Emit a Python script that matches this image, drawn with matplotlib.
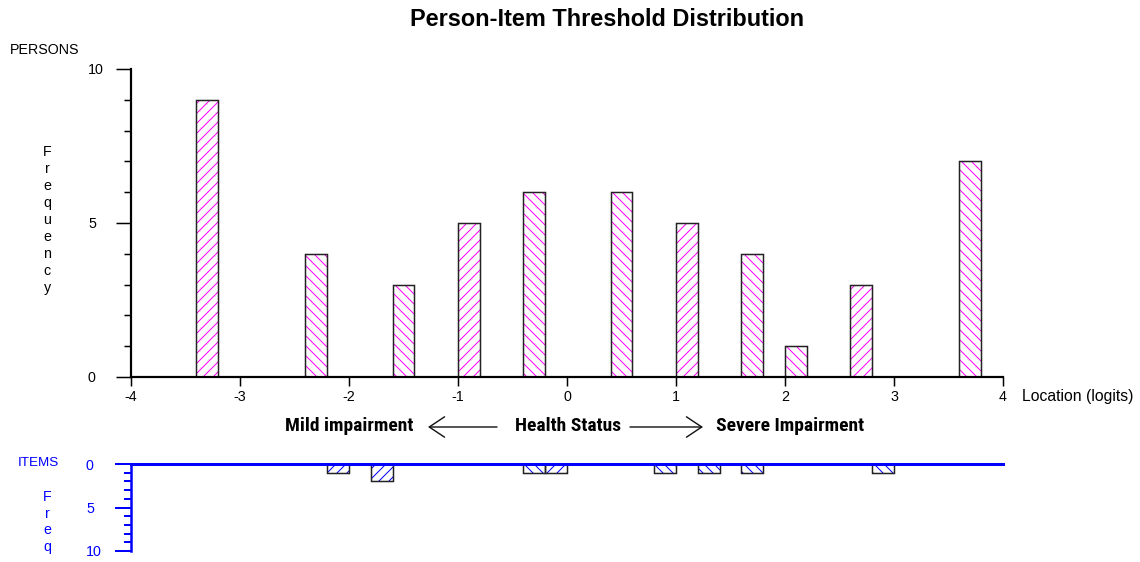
import matplotlib
matplotlib.use("Agg")
import matplotlib.pyplot as plt
from matplotlib import font_manager
from matplotlib.ticker import MultipleLocator

# ---------------- data ----------------
person_location = [-3.3, -2.3, -1.5, -0.9, -0.3, 0.5, 1.1, 1.7, 2.1, 2.7, 3.7]
person_freq = [9, 4, 3, 5, 6, 6, 5, 4, 1, 3, 7]
item_location = [-2.1, -1.7, -0.3, -0.1, 0.9, 1.3, 1.7, 2.9]
item_freq = [1, 2, 1, 1, 1, 1, 1, 1]
bin_width = 0.2
x_ticks = [-4, -3, -2, -1, 0, 1, 2, 3, 4]
person_yticks = [0, 5, 10]
item_yticks = [0, 5, 10]

title = "Person-Item Threshold Distribution"

# ---------------- style ----------------
DPI = 120
PT = 72.0 / DPI  # points per pixel
plt.rcParams['font.family'] = ['Liberation Sans', 'DejaVu Sans']
plt.rcParams['axes.unicode_minus'] = False
plt.rcParams['hatch.linewidth'] = 1.0 * PT

names = {f.name for f in font_manager.fontManager.ttflist}
if 'Liberation Sans Narrow' in names:
    cal_family, cal_size = 'Liberation Sans Narrow', 20.7 * PT
elif 'Roboto Condensed' in names:
    cal_family, cal_size = 'Roboto Condensed', 19.5 * PT
else:
    cal_family, cal_size = 'Lato', 17.0 * PT

person_hatch = ['/', '\\', '\\', '/', '\\', '\\', '/', '\\', '\\', '/', '\\']
item_hatch = ['/', '/', '\\', '/', '\\', '\\', '\\', '\\']

W, H = 1140, 562
fig = plt.figure(figsize=(W / DPI, H / DPI), dpi=DPI)


def fx(px):
    return px / W


def fy(py):
    return 1 - py / H


# ---------------- main (persons) axes ----------------
ax = fig.add_axes([fx(131), fy(377), fx(1003) - fx(131), fy(69) - fy(377)])
ax.set_xlim(-4, 4)
ax.set_ylim(0, 10)

hatch_bars = ax.bar(person_location, person_freq, width=bin_width, color='white',
                    edgecolor='#ff00ff', linewidth=0, zorder=2)
for b, h in zip(hatch_bars, person_hatch):
    b.set_hatch(h * 4)
ax.bar(person_location, person_freq, width=bin_width, fill=False,
       edgecolor='#222222', linewidth=1.5 * PT, zorder=3)

for s in ['top', 'right']:
    ax.spines[s].set_visible(False)
for s in ['left', 'bottom']:
    ax.spines[s].set_linewidth(2.2 * PT)
    ax.spines[s].set_color('black')
    ax.spines[s].set_zorder(4)

ax.set_xticks(x_ticks)
ax.set_xticklabels([str(v) for v in x_ticks])
ax.tick_params(axis='x', direction='out', length=9 * PT, width=1.5 * PT,
               pad=4 * PT, labelsize=14.3 * PT, colors='black')
ax.set_yticks(person_yticks)
ax.set_yticklabels([str(v) for v in person_yticks])
ax.yaxis.set_minor_locator(MultipleLocator(1))
ax.tick_params(axis='y', which='major', direction='out', length=15 * PT,
               width=1.5 * PT, pad=28 * PT, labelsize=14.3 * PT)
ax.tick_params(axis='y', which='minor', direction='out', length=7 * PT,
               width=1.5 * PT)
for lbl in ax.get_yticklabels():
    lbl.set_horizontalalignment('left')

# ---------------- items axes ----------------
ax2 = fig.add_axes([fx(131), fy(551), fx(1003) - fx(131), fy(464) - fy(551)])
ax2.set_xlim(-4, 4)
ax2.set_ylim(10, 0)
ib = ax2.bar(item_location, item_freq, width=bin_width, color='white',
             edgecolor='#0000ff', linewidth=0, zorder=2)
for b, h in zip(ib, item_hatch):
    b.set_hatch(h * 4)
ax2.bar(item_location, item_freq, width=bin_width, fill=False,
        edgecolor='#222222', linewidth=1.5 * PT, zorder=3)
for s in ['bottom', 'right']:
    ax2.spines[s].set_visible(False)
ax2.spines['top'].set_color('#0000ff')
ax2.spines['top'].set_linewidth(3.0 * PT)
ax2.spines['top'].set_zorder(4)
ax2.spines['left'].set_color('#0000ff')
ax2.spines['left'].set_linewidth(2.5 * PT)
ax2.set_xticks([])
ax2.set_yticks(item_yticks)
ax2.set_yticklabels([str(v) for v in item_yticks])
ax2.yaxis.set_minor_locator(MultipleLocator(1))
ax2.tick_params(axis='y', which='major', direction='out', length=16 * PT,
                width=2 * PT, pad=29 * PT, labelsize=14.3 * PT,
                colors='#0000ff')
ax2.tick_params(axis='y', which='minor', direction='out', length=7 * PT,
                width=2 * PT, colors='#0000ff')
for lbl in ax2.get_yticklabels():
    lbl.set_horizontalalignment('left')

# ---------------- texts ----------------
fig.text(fx(607), fy(19), title, ha='center', va='center',
         fontsize=23.5 * PT, fontweight='bold')
fig.text(fx(10), fy(50), "PERSONS", ha='left', va='center', fontsize=14.3 * PT)
fig.text(fx(47), fy(220), "\n".join("Frequency"), ha='center', va='center',
         fontsize=14.3 * PT, linespacing=1.27)
fig.text(fx(1022), fy(396), "Location (logits)", ha='left', va='center',
         fontsize=15.8 * PT)
fig.text(fx(18), fy(463), "ITEMS", ha='left', va='center', fontsize=13.5 * PT,
         color='#0000ff')
fig.text(fx(47), fy(522), "\n".join("Freq"), ha='center', va='center',
         fontsize=14.3 * PT, linespacing=1.27, color='#0000ff')

fig.text(fx(285), fy(426), "Mild impairment", ha='left', va='center',
         fontsize=cal_size, fontweight='bold', family=cal_family)
fig.text(fx(515), fy(426), "Health Status", ha='left', va='center',
         fontsize=cal_size, fontweight='bold', family=cal_family)
fig.text(fx(716), fy(426), "Severe Impairment", ha='left', va='center',
         fontsize=cal_size, fontweight='bold', family=cal_family)
arrow_kw = dict(arrowstyle='->,head_length=0.45,head_width=0.3',
                color='#111111', lw=1.4 * PT,
                mutation_scale=34 * PT, shrinkA=0, shrinkB=0)
fig.add_artist(matplotlib.patches.FancyArrowPatch(
    (fx(497), fy(427)), (fx(428), fy(427)), transform=fig.transFigure, **arrow_kw))
fig.add_artist(matplotlib.patches.FancyArrowPatch(
    (fx(630), fy(427)), (fx(703), fy(427)), transform=fig.transFigure, **arrow_kw))

fig.savefig("out.png", dpi=DPI)
